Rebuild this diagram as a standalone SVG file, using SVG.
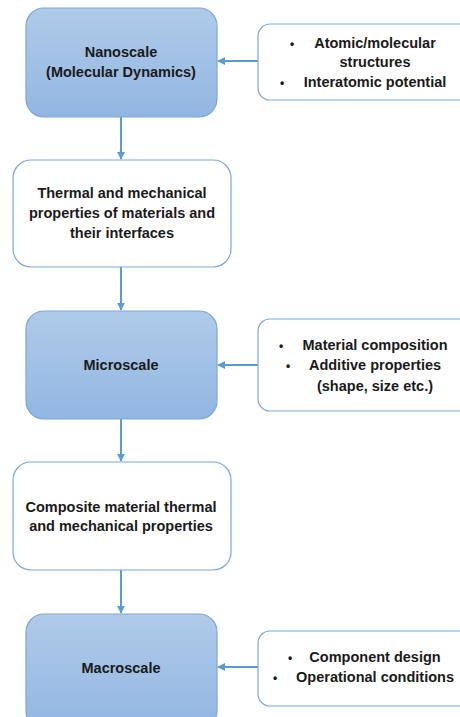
<svg xmlns="http://www.w3.org/2000/svg" width="460" height="717" viewBox="0 0 460 717">
<style>
.blue{fill:url(#g);stroke:#7aa7db;stroke-width:1.2}
.white{fill:#fff;stroke:#7aa7db;stroke-width:1.2}
text{font-family:"Liberation Sans",Arial,sans-serif;font-weight:bold;font-size:14.5px;fill:#1a1a1a;text-anchor:middle}
text.b{font-size:12px}
.c{stroke:#5b9bd5;stroke-width:2;fill:none}
</style>
<defs>
<linearGradient id="g" x1="0" y1="0" x2="0" y2="1">
<stop offset="0" stop-color="#b0cbe9"/>
<stop offset="1" stop-color="#92b6e2"/>
</linearGradient>
<marker id="a" viewBox="0 0 10 10" refX="9" refY="5" markerWidth="4" markerHeight="4" orient="auto" markerUnits="strokeWidth">
<path d="M0,0 L10,5 L0,10 z" fill="#5b9bd5"/>
</marker>
</defs>
<rect width="460" height="717" fill="#fff"/>
<g id="connectors">
<line class="c" x1="121" y1="117" x2="121" y2="159" marker-end="url(#a)"/>
<line class="c" x1="121" y1="267" x2="121" y2="310" marker-end="url(#a)"/>
<line class="c" x1="121" y1="419" x2="121" y2="461" marker-end="url(#a)"/>
<line class="c" x1="121" y1="570" x2="121" y2="613" marker-end="url(#a)"/>
<line class="c" x1="258" y1="61" x2="218" y2="61" marker-end="url(#a)"/>
<line class="c" x1="258" y1="365" x2="218" y2="365" marker-end="url(#a)"/>
<line class="c" x1="258" y1="667" x2="218" y2="667" marker-end="url(#a)"/>
</g>
<g id="nanoscale">
<rect class="blue" x="26" y="8" width="191" height="109" rx="18"/>
<text x="121" y="57">Nanoscale</text>
<text x="121" y="77">(Molecular Dynamics)</text>
</g>
<g id="nano-inputs">
<rect class="white" x="258" y="24" width="215" height="76" rx="12"/>
<text class="b" x="292" y="48">•</text>
<text x="375" y="48">Atomic/molecular</text>
<text x="375" y="67">structures</text>
<text class="b" x="282" y="87">•</text>
<text x="375" y="87">Interatomic potential</text>
</g>
<g id="nano-props">
<rect class="white" x="13" y="160" width="218" height="107" rx="18"/>
<text x="122" y="198">Thermal and mechanical</text>
<text x="122" y="218">properties of materials and</text>
<text x="122" y="238">their interfaces</text>
</g>
<g id="microscale">
<rect class="blue" x="26" y="311" width="191" height="108" rx="18"/>
<text x="121" y="370">Microscale</text>
</g>
<g id="micro-inputs">
<rect class="white" x="258" y="319" width="215" height="92" rx="12"/>
<text class="b" x="281" y="350">•</text>
<text x="375" y="350">Material composition</text>
<text class="b" x="288" y="370">•</text>
<text x="375" y="370">Additive properties</text>
<text x="375" y="391">(shape, size etc.)</text>
</g>
<g id="composite-props">
<rect class="white" x="13" y="462" width="218" height="108" rx="18"/>
<text x="121" y="512">Composite material thermal</text>
<text x="121" y="531">and mechanical properties</text>
</g>
<g id="macroscale">
<rect class="blue" x="26" y="614" width="191" height="115" rx="18"/>
<text x="121" y="673">Macroscale</text>
</g>
<g id="macro-inputs">
<rect class="white" x="258" y="631" width="215" height="75" rx="12"/>
<text class="b" x="290" y="662">•</text>
<text x="375" y="662">Component design</text>
<text class="b" x="275" y="682">•</text>
<text x="375" y="682">Operational conditions</text>
</g>
</svg>
